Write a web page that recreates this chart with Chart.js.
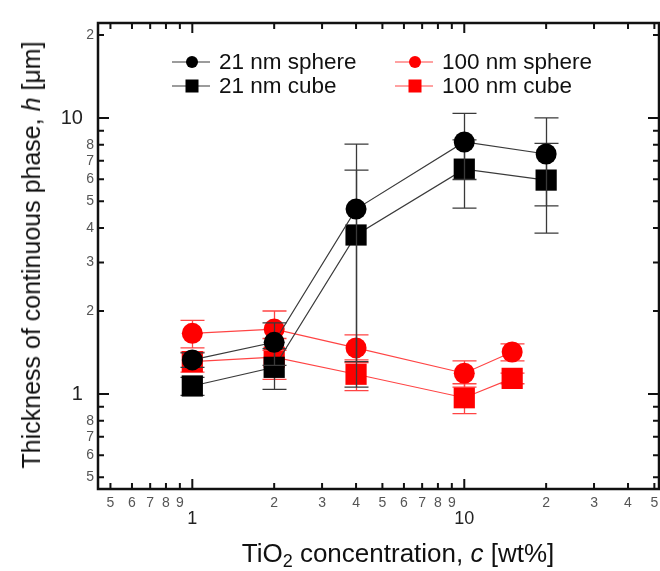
<!DOCTYPE html>
<html lang="en">
<head>
  <meta charset="UTF-8" />
  <title>Continuous phase thickness vs TiO2 concentration</title>
  <script src="https://cdn.jsdelivr.net/npm/chart.js"></script>
  <style>
    body { margin: 0; background: #fff; font-family: Arial, "Liberation Sans", sans-serif; color: #111; }
    #wrap { position: relative; width: 660px; height: 571px; }
    .axis-title { position: absolute; font-size: 26px; line-height: 26px; white-space: nowrap; }
    .axis-title sub { font-size: 18px; line-height: 0; vertical-align: -5px; }
    #xtitle { left: 398px; top: 540px; transform: translateX(-50%); }
    #ytitle { left: 31px; top: 255px; transform: translate(-50%, -50%) rotate(-90deg); font-size: 25px; }
  </style>
</head>
<body>
  <div id="wrap">
    <canvas id="chart" width="660" height="571"></canvas>
    <div id="xtitle" class="axis-title">TiO<sub>2</sub> concentration, <i>c</i> [wt%]</div>
    <div id="ytitle" class="axis-title">Thickness of continuous phase, <i>h</i> [μm]</div>
  </div>

  <script>
    // concentrations [wt%]
    const conc21 = [1, 2, 4, 10, 20];
    const conc100 = [1, 2, 4, 10, 15];

    // thickness h [um] and error bars
    const sphere21 = [1.33, 1.54, 4.68, 8.19, 7.41];
    const sphere21Err = [0.08, 0.27, 3.37, 2.2, 2.6];
    const cube21 = [1.07, 1.25, 3.77, 6.53, 5.96];
    const cube21Err = [0.08, 0.21, 2.71, 1.81, 2.13];
    const sphere100 = [1.66, 1.72, 1.47, 1.19, 1.42];
    const sphere100Err = [0.19, 0.28, 0.17, 0.13, 0.10];
    const cube100 = [1.31, 1.36, 1.18, 0.97, 1.14];
    const cube100Err = [0.11, 0.23, 0.15, 0.12, 0.05];

    const seriesNames = ["21 nm sphere", "21 nm cube", "100 nm sphere", "100 nm cube"];

    // tick positions
    const xTicks = [0.5, 0.6, 0.7, 0.8, 0.9, 1, 2, 3, 4, 5, 6, 7, 8, 9, 10, 20, 30, 40, 50];
    const yTicks = [0.5, 0.6, 0.7, 0.8, 0.9, 1, 2, 3, 4, 5, 6, 7, 8, 9, 10, 20];
    const majorTicks = [1, 10];
    const yUnlabeled = [0.9, 9];

    const BLACK = "#000000";
    const RED = "#ff0000";
    const FONT = "Arial, 'Liberation Sans', sans-serif";
    const PLOT_RIGHT = 659;

    function leadDigit(v) {
      return String(Math.round(v / Math.pow(10, Math.floor(Math.log10(v) + 1e-9))));
    }
    function points(xs, ys) {
      return xs.map((x, i) => ({ x: x, y: ys[i] }));
    }
    function series(name, xs, ys, errs, color, lineColor, style, radius) {
      return {
        label: name,
        data: points(xs, ys),
        errors: errs,
        errColor: lineColor,
        borderColor: lineColor,
        borderWidth: 1.2,
        pointStyle: style,
        pointRadius: radius,
        pointBackgroundColor: color,
        pointBorderColor: color,
        pointBorderWidth: 0,
        tension: 0
      };
    }

    // the x axis runs right up to the frame edge, whatever room the last label wants
    const pinArea = {
      id: "pinArea",
      afterLayout(chart) {
        const x = chart.scales.x;
        x.right = PLOT_RIGHT;
        x.width = x.right - x.left;
        x.configure();
        chart.chartArea.right = PLOT_RIGHT;
        chart.chartArea.width = PLOT_RIGHT - chart.chartArea.left;
      }
    };

    // error bars go under each dataset's own markers
    const errorBars = {
      id: "errorBars",
      beforeDatasetDraw(chart, args) {
        const ds = chart.data.datasets[args.index];
        if (!ds.errors) return;
        const y = chart.scales.y;
        const ctx = chart.ctx;
        ctx.save();
        ctx.strokeStyle = ds.errColor;
        ctx.lineWidth = 1.3;
        args.meta.data.forEach((el, i) => {
          const v = ds.data[i].y, e = ds.errors[i];
          const top = y.getPixelForValue(v + e);
          const bot = y.getPixelForValue(v - e);
          const cx = Math.round(el.x) + 0.5;
          ctx.beginPath();
          ctx.moveTo(cx, top); ctx.lineTo(cx, bot);
          ctx.moveTo(cx - 12, top); ctx.lineTo(cx + 12, top);
          ctx.moveTo(cx - 12, bot); ctx.lineTo(cx + 12, bot);
          ctx.stroke();
        });
        ctx.restore();
      }
    };

    // box frame with inward ticks on all four sides, plus the legend
    const frame = {
      id: "frame",
      afterDraw(chart) {
        const { ctx, chartArea: a, scales } = chart;
        ctx.save();
        ctx.strokeStyle = "#111";
        ctx.lineWidth = 2.5;
        ctx.strokeRect(a.left, a.top, a.right - a.left, a.bottom - a.top);
        ctx.lineWidth = 2;
        ctx.beginPath();
        xTicks.forEach(v => {
          const px = scales.x.getPixelForValue(v);
          const len = majorTicks.includes(v) ? 10 : 6;
          ctx.moveTo(px, a.bottom); ctx.lineTo(px, a.bottom - len);
          ctx.moveTo(px, a.top); ctx.lineTo(px, a.top + len);
        });
        yTicks.forEach(v => {
          const py = scales.y.getPixelForValue(v);
          const len = majorTicks.includes(v) ? 11 : 6;
          ctx.moveTo(a.left, py); ctx.lineTo(a.left + len, py);
          ctx.moveTo(a.right, py); ctx.lineTo(a.right - len, py);
        });
        ctx.stroke();

        // legend
        const ds = chart.data.datasets;
        const cols = [172, 395];
        const rows = [62, 86];
        ctx.font = "22.5px " + FONT;
        ctx.textBaseline = "middle";
        ds.forEach((d, i) => {
          const lx = cols[Math.floor(i / 2)], ly = rows[i % 2];
          ctx.strokeStyle = d.borderColor;
          ctx.lineWidth = 1.2;
          ctx.beginPath();
          ctx.moveTo(lx, ly); ctx.lineTo(lx + 38, ly);
          ctx.stroke();
          ctx.fillStyle = d.pointBackgroundColor;
          if (d.pointStyle === "circle") {
            ctx.beginPath();
            ctx.arc(lx + 20, ly, 6, 0, Math.PI * 2);
            ctx.fill();
          } else {
            ctx.fillRect(lx + 13.5, ly - 6.5, 13, 13);
          }
          ctx.fillStyle = "#111";
          ctx.fillText(d.label, lx + 47, ly + 1);
        });
        ctx.restore();
      }
    };

    const tickFont = (c, big, lh) => majorTicks.includes(c.tick.value)
      ? { family: FONT, size: big, lineHeight: lh }
      : { family: FONT, size: 14, lineHeight: 1 };
    const tickColor = c => majorTicks.includes(c.tick.value) ? "#222" : "#555";

    new Chart(document.getElementById("chart"), {
      type: "line",
      data: {
        datasets: [
          series(seriesNames[0], conc21, sphere21, sphere21Err, BLACK, "#3a3a3a", "circle", 10.5),
          series(seriesNames[1], conc21, cube21, cube21Err, BLACK, "#3a3a3a", "rect", 15),
          series(seriesNames[2], conc100, sphere100, sphere100Err, RED, "#ff4444", "circle", 10.5),
          series(seriesNames[3], conc100, cube100, cube100Err, RED, "#ff4444", "rect", 15)
        ]
      },
      options: {
        responsive: false,
        animation: false,
        devicePixelRatio: 1,
        layout: { padding: { top: 23, right: 1, left: 0, bottom: 0 } },
        plugins: { legend: { display: false }, tooltip: { enabled: false } },
        scales: {
          x: {
            type: "logarithmic",
            min: 0.45,
            max: 52,
            grid: { display: false, drawTicks: false },
            border: { display: false },
            afterBuildTicks: s => { s.ticks = xTicks.map(v => ({ value: v })); },
            afterFit: s => { s.height = 82; },
            ticks: {
              autoSkip: false,
              maxRotation: 0,
              minRotation: 0,
              padding: 7,
              callback: v => majorTicks.includes(v) ? ["", String(v)] : leadDigit(v),
              font: c => tickFont(c, 18, 0.85),
              color: tickColor
            }
          },
          y: {
            type: "logarithmic",
            min: 0.453,
            max: 22.1,
            grid: { display: false, drawTicks: false },
            border: { display: false },
            afterBuildTicks: s => { s.ticks = yTicks.map(v => ({ value: v })); },
            afterFit: s => { s.width = 98; },
            ticks: {
              autoSkip: false,
              padding: 4,
              callback: v => yUnlabeled.includes(v) ? "" : majorTicks.includes(v) ? String(v) + "  " : leadDigit(v),
              font: c => tickFont(c, 20, 1),
              color: tickColor
            }
          }
        }
      },
      plugins: [pinArea, errorBars, frame]
    });
  </script>
</body>
</html>
